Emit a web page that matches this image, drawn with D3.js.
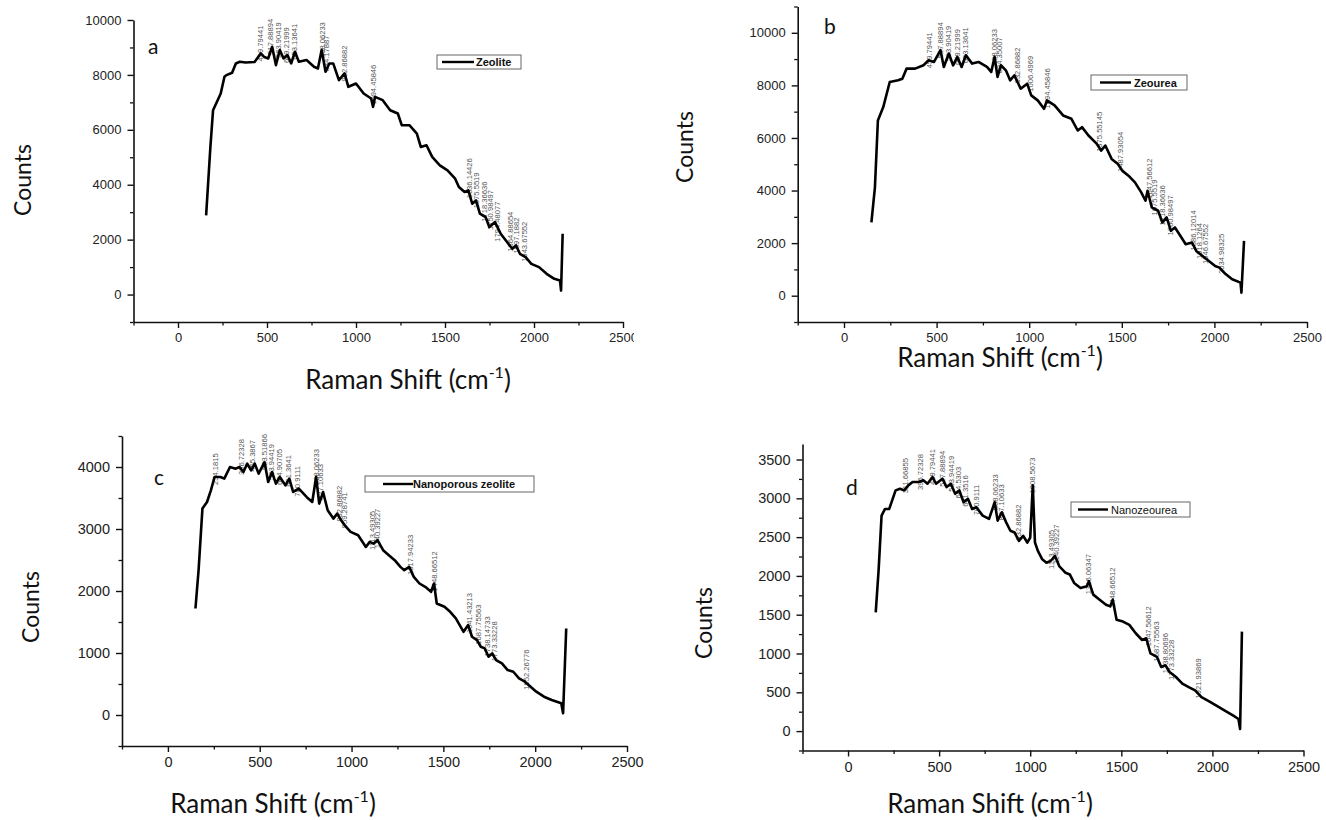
<!DOCTYPE html>
<html>
<head>
<meta charset="utf-8">
<script src="https://cdn.jsdelivr.net/npm/d3@7"></script>
<style>
  html, body { margin: 0; padding: 0; background: #fff; }
  svg { display: block; }
</style>
</head>
<body>
<svg id="chart" width="1326" height="820"></svg>
<script>
// ---------------- DATA ----------------
// Panel a : Zeolite
const aShift  = [158,182,197,240,261,272,304,325,347,380,430,465,485,507,529,550,572,593,615,636,657,679,722,764,786,807,829,850,872,904,936,957,1000,1043,1085,1096,1107,1150,1192,1235,1257,1300,1342,1364,1396,1428,1471,1514,1557,1578,1610,1631,1653,1674,1696,1728,1749,1781,1813,1856,1878,1899,1921,1953,1985,2028,2071,2114,2146,2152,2161];
const aCounts = [2883,5377,6715,7323,7931,7992,8077,8418,8479,8450,8470,8783,8650,8600,9026,8357,8905,8600,8722,8418,8843,8479,8540,8296,8235,8905,8114,8418,8418,7810,8053,7567,7688,7323,7141,6837,7202,7080,6715,6594,6168,6168,5864,5377,5438,5012,4708,4525,4221,3917,3735,3796,3309,3431,2944,2822,2457,2640,2214,1849,1667,1788,1484,1362,1119,998,754,572,511,146,2214];
const aPeakShift  = [459.8,517.9,563.9,609.2,653.1,808.1,834.2,932.9,1094.5,1636.1,1675.6,1718.4,1751.0,1794.5,1864.9,1897.2,1943.7];
const aPeakCounts = [8783,9026,8905,8722,8843,8905,8418,8053,7202,3796,3431,2944,2640,2214,1849,1788,1484];
const aPeakLabels = ["459.79441","517.88894","563.90419","609.21999","653.13641","808.06233","834.17887","932.86882","1094.45846","1636.14426","1675.5519","1718.36636","1750.98497","1794.48077","1864.88654","1897.1882","1943.67552"];

// Panel b : Zeourea
const bShift  = [148,167,183,212,247,292,315,338,384,429,457,486,521,539,566,589,612,635,658,692,726,772,795,813,829,847,874,897,920,954,989,1011,1046,1080,1096,1137,1183,1228,1262,1285,1320,1365,1388,1411,1445,1479,1502,1536,1571,1605,1628,1639,1662,1696,1719,1742,1765,1787,1822,1845,1879,1902,1936,1970,2004,2027,2062,2096,2141,2146,2160];
const bCounts = [2786,4121,6665,7174,8128,8192,8255,8637,8637,8764,8955,8891,9337,8701,9210,8764,9082,8701,9146,8828,8891,8701,8510,9082,8319,8764,8573,8192,8382,7874,8065,7619,7429,7110,7429,7238,6856,6729,6284,6411,6093,5775,5521,5711,5203,5012,4757,4566,4312,3930,3613,3994,3358,3231,2786,2977,2468,2595,2213,1959,2023,1704,1514,1323,1132,1068,814,623,496,114,2086];
const bPeakShift  = [459.8,517.9,563.9,609.2,653.1,808.1,834.4,932.9,1006.5,1094.5,1375.6,1487.9,1647.6,1675.6,1718.4,1761.0,1886.1,1918.1,1946.7,2035.0];
const bPeakCounts = [8955,9337,9210,9082,9146,9082,8764,8382,8065,7429,5775,5012,3994,3358,2977,2595,2023,1704,1514,1132];
const bPeakLabels = ["459.79441","517.88894","563.90419","609.21999","653.13641","808.06233","834.35007","932.86882","1006.4969","1094.45846","1375.55145","1487.93054","1647.56612","1675.5519","1718.36636","1760.98497","1886.12014","1918.1264","1946.67552","2034.98325"];

// Panel c : Nanoporous zeolite
const cShift  = [150,167,188,213,234,254,286,307,338,369,390,411,432,453,473,494,526,546,567,588,609,640,661,682,713,755,786,807,824,845,870,901,922,943,963,995,1036,1078,1099,1120,1141,1172,1203,1235,1266,1287,1314,1339,1370,1401,1433,1449,1464,1506,1537,1568,1589,1610,1635,1656,1683,1704,1725,1746,1766,1787,1819,1850,1881,1912,1944,1975,2006,2048,2090,2142,2152,2169];
const cCounts = [1718,2336,3329,3436,3624,3839,3839,3812,4000,3973,4000,3919,4054,3946,4054,3893,4080,3758,3919,3731,3839,3704,3812,3597,3651,3517,3436,3839,3409,3597,3302,3168,3248,3141,3060,2953,2899,2711,2792,2765,2819,2658,2577,2497,2389,2336,2389,2228,2121,2067,1987,2121,1799,1745,1664,1557,1450,1342,1450,1262,1208,1101,1074,940,994,886,832,725,698,591,537,456,376,295,242,188,27,1396];
const cPeakShift  = [254.2,396.7,455.4,523.5,563.9,604.9,651.4,700.9,808.1,827.1,932.9,959.3,1113.5,1140.4,1317.9,1448.7,1641.4,1687.8,1738.1,1773.3,1952.3];
const cPeakCounts = [3839,4000,4054,4080,3919,3839,3812,3651,3839,3597,3248,3141,2792,2819,2389,2121,1450,1262,1074,994,537];
const cPeakLabels = ["254.1815","396.72328","455.3867","523.51866","563.94419","604.90705","651.3641","700.9111","808.06233","827.10633","932.86882","959.28741","1113.49305","1140.39227","1317.94233","1448.66512","1641.43213","1687.75563","1738.14733","1773.33228","1952.26776"];

// Panel d : Nanozeourea
const dShift  = [152,168,184,203,226,245,261,285,308,331,354,389,413,436,464,483,518,541,564,588,611,634,658,681,704,739,774,805,821,844,868,891,914,938,961,984,1000,1014,1026,1042,1066,1089,1112,1136,1159,1194,1217,1241,1276,1311,1322,1346,1381,1416,1439,1453,1474,1509,1544,1579,1614,1637,1660,1695,1719,1742,1765,1800,1835,1870,1905,1940,1975,2022,2068,2115,2143,2152,2162];
const dCounts = [1529,2084,2777,2863,2863,2993,3102,3123,3102,3167,3210,3210,3232,3188,3275,3188,3253,3145,3188,3058,3102,2950,2993,2863,2885,2777,2734,2950,2712,2820,2690,2582,2560,2452,2517,2430,2495,3167,2430,2322,2214,2170,2192,2257,2127,2040,2019,1910,1845,1867,1932,1759,1694,1629,1607,1694,1434,1412,1369,1261,1174,1196,1001,957,827,849,762,697,611,567,524,438,394,329,264,199,156,26,1282];
const dPeakShift  = [311.7,396.7,459.8,517.9,563.9,604.5,641.4,700.9,808.1,837.1,932.9,1008.6,1113.5,1140.4,1316.1,1448.7,1647.6,1687.8,1738.8,1773.3,1921.9];
const dPeakCounts = [3167,3210,3275,3253,3188,3102,2993,2885,2950,2820,2560,3167,2192,2257,1867,1694,1196,1001,849,762,524];
const dPeakLabels = ["311.66855","396.72328","459.79441","517.88894","563.94419","604.5303","641.3516","700.9111","808.06233","837.10633","932.86882","1008.5673","1113.49305","1140.39227","1316.06347","1448.66512","1647.56612","1687.75563","1738.80696","1773.33228","1921.93869"];

// Axis ticks
const xMajorTicks = [0, 500, 1000, 1500, 2000, 2500];
const xMinorTicks = [-250, 250, 750, 1250, 1750, 2250];
const abMajorY = [0, 2000, 4000, 6000, 8000, 10000];
const aMinorY  = [-1000, 1000, 3000, 5000, 7000, 9000];
const bMinorY  = [-1000, 1000, 3000, 5000, 7000, 9000, 11000];
const cMajorY  = [0, 1000, 2000, 3000, 4000];
const cMinorY  = [-500, 500, 1500, 2500, 3500, 4500];
const dMajorY  = [0, 500, 1000, 1500, 2000, 2500, 3000, 3500];
const dMinorY  = [-250, 250, 750, 1250, 1750, 2250, 2750, 3250];

const panelLetters = ["a", "b", "c", "d"];
const legendNames = ["Zeolite", "Zeourea", "Nanoporous zeolite", "Nanozeourea"];
const yTitle = "Counts";

// ---------------- LAYOUT ----------------
const panels = [
  { shift: aShift, counts: aCounts, pkX: aPeakShift, pkY: aPeakCounts, pkT: aPeakLabels,
    yDom: [-1000, 10000], xR: [133.5, 623], yR: [322, 20], yMaj: abMajorY, yMin: aMinorY, tickFont: 13,
    letter: [148, 54], legend: { x: 437, y: 55, w: 84, h: 14, lx1: 442, lx2: 474, tx: 476, bold: true },
    countsPos: [22, 180], ramanPos: [408, 389], clip: 634 },
  { shift: bShift, counts: bCounts, pkX: bPeakShift, pkY: bPeakCounts, pkT: bPeakLabels,
    yDom: [-1000, 11000], xR: [797.7, 1307], yR: [322, 6.5], yMaj: abMajorY, yMin: bMinorY, tickFont: 13,
    letter: [824, 34], legend: { x: 1091, y: 75, w: 96, h: 15, lx1: 1100, lx2: 1131, tx: 1134, bold: true },
    countsPos: [684, 147], ramanPos: [1000, 367] },
  { shift: cShift, counts: cCounts, pkX: cPeakShift, pkY: cPeakCounts, pkT: cPeakLabels,
    yDom: [-500, 4500], xR: [122, 627], yR: [746, 436], yMaj: cMajorY, yMin: cMinorY, tickFont: 14.5,
    letter: [154, 485], legend: { x: 365, y: 476, w: 169, h: 16, lx1: 383, lx2: 413, tx: 413, bold: true },
    countsPos: [30, 607], ramanPos: [273, 813] },
  { shift: dShift, counts: dCounts, pkX: dPeakShift, pkY: dPeakCounts, pkT: dPeakLabels,
    yDom: [-250, 3700], xR: [802.5, 1303.5], yR: [750.5, 444], yMaj: dMajorY, yMin: dMinorY, tickFont: 14.5,
    letter: [846, 495], legend: { x: 1071, y: 502, w: 119, h: 15, lx1: 1078, lx2: 1108, tx: 1111, bold: false },
    countsPos: [703, 623], ramanPos: [990, 813] }
];

const svg = d3.select("#chart");
const tickFontFamily = "'Liberation Sans', Arial, sans-serif";
const titleFontFamily = "Lato, 'Open Sans', sans-serif";

panels.forEach((p, i) => {
  let g = svg.append("g");
  if (p.clip) {
    svg.append("clipPath").attr("id", "clip" + i)
      .append("rect").attr("x", 0).attr("y", 0).attr("width", p.clip).attr("height", 410);
    g.attr("clip-path", `url(#clip${i})`);
  }
  const x = d3.scaleLinear().domain([-250, 2500]).range(p.xR);
  const y = d3.scaleLinear().domain(p.yDom).range(p.yR);

  // X axis major
  const xAxis = d3.axisBottom(x).tickValues(xMajorTicks).tickSize(6).tickSizeOuter(0).tickPadding(5)
    .tickFormat(d3.format("d"));
  const gx = g.append("g").attr("transform", `translate(0,${p.yR[0]})`).call(xAxis);
  gx.select(".domain").attr("stroke", "#111").attr("stroke-width", 1.6);
  gx.selectAll(".tick line").attr("stroke", "#111").attr("stroke-width", 1.4);
  gx.selectAll(".tick text").attr("font-family", tickFontFamily).attr("font-size", p.tickFont).attr("fill", "#222");
  const gxm = g.append("g").attr("transform", `translate(0,${p.yR[0]})`)
    .call(d3.axisBottom(x).tickValues(xMinorTicks).tickSize(3.5).tickSizeOuter(0).tickFormat(""));
  gxm.select(".domain").remove();
  gxm.selectAll(".tick line").attr("stroke", "#111").attr("stroke-width", 1.3);

  // Y axis
  const yAxis = d3.axisLeft(y).tickValues(p.yMaj).tickSize(6).tickSizeOuter(0).tickPadding(6)
    .tickFormat(d3.format("d"));
  const gy = g.append("g").attr("transform", `translate(${p.xR[0]},0)`).call(yAxis);
  gy.select(".domain").attr("stroke", "#111").attr("stroke-width", 1.6);
  gy.selectAll(".tick line").attr("stroke", "#111").attr("stroke-width", 1.4);
  gy.selectAll(".tick text").attr("font-family", tickFontFamily).attr("font-size", p.tickFont).attr("fill", "#222");
  const gym = g.append("g").attr("transform", `translate(${p.xR[0]},0)`)
    .call(d3.axisLeft(y).tickValues(p.yMin).tickSize(3.5).tickSizeOuter(0).tickFormat(""));
  gym.select(".domain").remove();
  gym.selectAll(".tick line").attr("stroke", "#111").attr("stroke-width", 1.3);

  // Peak labels (drawn under the curve, as in the original)
  p.pkX.forEach((s, k) => {
    const px = x(s) + 3, py = y(p.pkY[k]) + 8;
    g.append("text").attr("transform", `translate(${px},${py}) rotate(-90)`)
      .attr("font-family", tickFontFamily).attr("font-size", 7.6).attr("fill", "#555")
      .text(p.pkT[k]);
  });

  // Curve
  const pts = p.shift.map((s, k) => [s, p.counts[k]]);
  g.append("path").datum(pts)
    .attr("fill", "none").attr("stroke", "#000").attr("stroke-width", 2.6)
    .attr("stroke-linejoin", "round")
    .attr("d", d3.line().x(d => x(d[0])).y(d => y(d[1])));

  // Panel letter
  g.append("text").attr("x", p.letter[0]).attr("y", p.letter[1])
    .attr("font-family", titleFontFamily).attr("font-size", 21).attr("fill", "#111")
    .text(panelLetters[i]);

  // Legend
  const L = p.legend;
  g.append("rect").attr("x", L.x).attr("y", L.y).attr("width", L.w).attr("height", L.h)
    .attr("fill", "#fff").attr("stroke", "#666").attr("stroke-width", 1);
  g.append("line").attr("x1", L.lx1).attr("x2", L.lx2).attr("y1", L.y + L.h / 2).attr("y2", L.y + L.h / 2)
    .attr("stroke", "#000").attr("stroke-width", 2.4);
  g.append("text").attr("x", L.tx).attr("y", L.y + L.h / 2 + 4)
    .attr("font-family", tickFontFamily).attr("font-size", 11).attr("font-weight", L.bold ? "bold" : "normal")
    .attr("fill", "#111").text(legendNames[i]);

  // Axis titles
  svg.append("text").attr("transform", `translate(${p.countsPos[0]},${p.countsPos[1]}) rotate(-90)`)
    .attr("text-anchor", "middle").attr("dominant-baseline", "central")
    .attr("font-family", titleFontFamily).attr("font-size", 23).attr("fill", "#111").text(yTitle);
  const rt = svg.append("text").attr("x", p.ramanPos[0]).attr("y", p.ramanPos[1])
    .attr("text-anchor", "middle").attr("font-family", titleFontFamily).attr("font-size", 26).attr("fill", "#111");
  rt.append("tspan").text("Raman Shift (cm");
  rt.append("tspan").attr("dy", -11).attr("font-size", 16).text("-1");
  rt.append("tspan").attr("dy", 11).text(")");
});
</script>
</body>
</html>
